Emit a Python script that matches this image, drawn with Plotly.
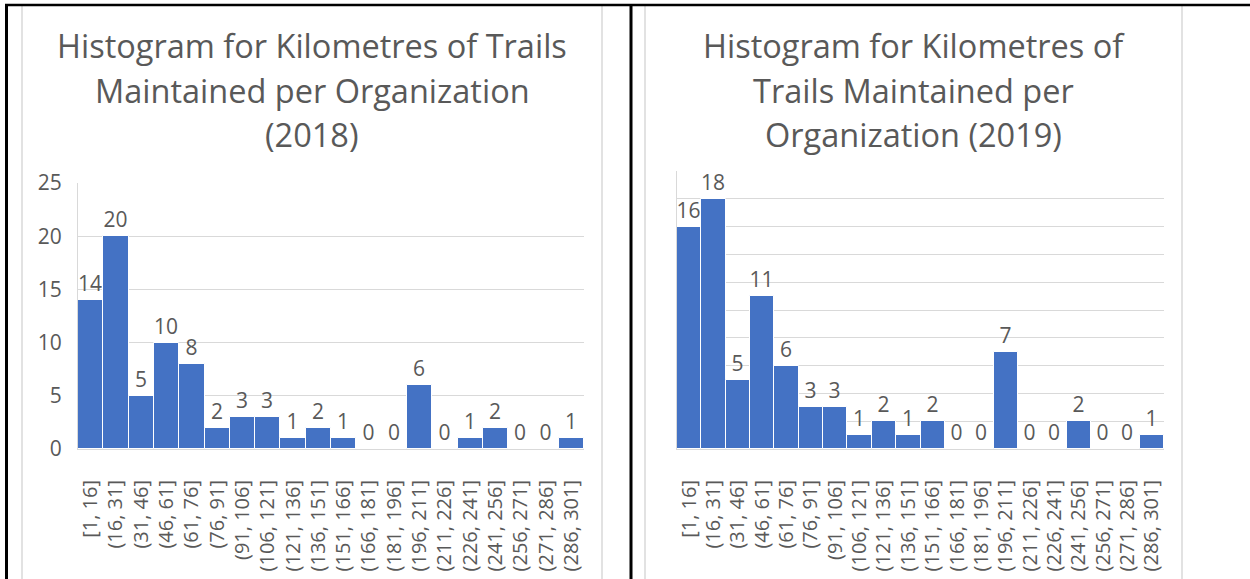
import plotly.graph_objects as go

W, H = 1250, 579

categories = ["[1, 16]", "(16, 31]", "(31, 46]", "(46, 61]", "(61, 76]", "(76, 91]",
              "(91, 106]", "(106, 121]", "(121, 136]", "(136, 151]", "(151, 166]",
              "(166, 181]", "(181, 196]", "(196, 211]", "(211, 226]", "(226, 241]",
              "(241, 256]", "(256, 271]", "(271, 286]", "(286, 301]"]
values_2018 = [14, 20, 5, 10, 8, 2, 3, 3, 1, 2, 1, 0, 0, 6, 0, 1, 2, 0, 0, 1]
values_2019 = [16, 18, 5, 11, 6, 3, 3, 1, 2, 1, 2, 0, 0, 7, 0, 0, 2, 0, 0, 1]

title_2018 = ["Histogram for Kilometres of Trails", "Maintained per Organization", "(2018)"]
title_2019 = ["Histogram for Kilometres of", "Trails Maintained per", "Organization (2019)"]

FONT = "Open Sans"
TXT = "#595959"
GRID = "#D9D9D9"
BAR = "#4472C4"


def px_x(p):
    return p / W


def px_y(p):
    return 1 - p / H


fig = go.Figure()
fig.add_trace(go.Bar(x=categories, y=values_2018, text=values_2018, textposition="outside",
                     textfont=dict(size=21, color=TXT, family=FONT), cliponaxis=False,
                     constraintext="none", marker=dict(color=BAR, line=dict(color="white", width=1)),
                     xaxis="x", yaxis="y", showlegend=False, hoverinfo="skip"))
fig.add_trace(go.Bar(x=categories, y=values_2019, text=values_2019, textposition="outside",
                     textfont=dict(size=21, color=TXT, family=FONT), cliponaxis=False,
                     constraintext="none", marker=dict(color=BAR, line=dict(color="white", width=1)),
                     xaxis="x2", yaxis="y2", showlegend=False, hoverinfo="skip"))

xcommon = dict(type="category", tickangle=-90, showgrid=False, showline=True, linecolor=GRID,
               linewidth=1, ticks="", tickfont=dict(size=20, color=TXT, family=FONT),
               ticklabelstandoff=22, tickmode="linear", dtick=1, automargin=False)
ycommon = dict(showgrid=True, gridcolor=GRID, gridwidth=1, showline=True, linecolor=GRID,
               linewidth=1, ticks="", zeroline=False, automargin=False,
               tickfont=dict(size=21, color=TXT, family=FONT))

fig.update_layout(
    width=W, height=H,
    margin=dict(l=0, r=0, t=0, b=0, pad=0),
    paper_bgcolor="white", plot_bgcolor="white",
    bargap=0,
    font=dict(family=FONT, color=TXT),
    xaxis=dict(domain=[px_x(78), px_x(584)], anchor="y", **xcommon),
    yaxis=dict(domain=[px_y(449), px_y(183)], anchor="x", range=[0, 25], dtick=5,
               ticklabelstandoff=11, **ycommon),
    xaxis2=dict(domain=[px_x(677), px_x(1164)], anchor="y2", **xcommon),
    yaxis2=dict(domain=[px_y(449), px_y(171)], anchor="x2", range=[0, 20], dtick=2,
                showticklabels=False, **ycommon),
)

# title annotations
for lines, cx in ((title_2018, 312), (title_2019, 913.5)):
    for i, line in enumerate(lines):
        fig.add_annotation(text=line, x=px_x(cx), y=px_y(45 + 45 * i), xref="paper", yref="paper",
                           xanchor="center", yanchor="middle", showarrow=False,
                           font=dict(size=32.5, color=TXT, family=FONT))

# chart frames (light grey) and table borders (black)
shapes = []
for xp in (22, 602, 645, 1182):
    shapes.append(dict(type="line", xref="paper", yref="paper", x0=px_x(xp), x1=px_x(xp),
                       y0=px_y(6), y1=0, line=dict(color=GRID, width=1.5)))
shapes.append(dict(type="line", xref="paper", yref="paper", x0=px_x(5), x1=1,
                   y0=px_y(5), y1=px_y(5), line=dict(color="black", width=2.5)))
for xp in (6.5, 631):
    shapes.append(dict(type="line", xref="paper", yref="paper", x0=px_x(xp), x1=px_x(xp),
                       y0=px_y(4), y1=0, line=dict(color="black", width=3)))
fig.update_layout(shapes=shapes)

fig.write_html("out.html", config={"displayModeBar": False},
               post_script="document.body.style.margin='0';document.body.style.overflow='hidden';")
